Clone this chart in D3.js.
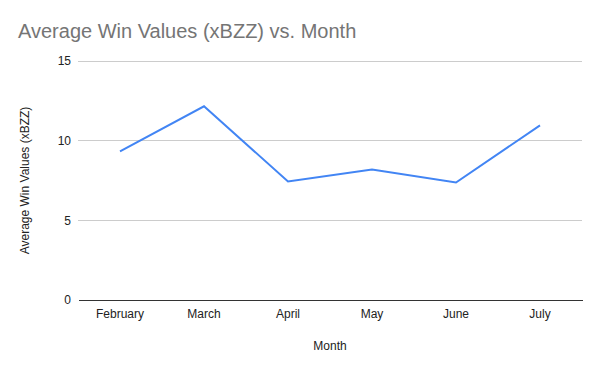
<!DOCTYPE html>
<html>
<head>
<meta charset="utf-8">
<script src="https://cdn.jsdelivr.net/npm/d3@7"></script>
<style>
  body { margin: 0; background: #fff; }
  text { font-family: "Liberation Sans", Arial, sans-serif; }
</style>
</head>
<body>
<svg id="chart" width="600" height="371"></svg>
<script>
const months = ['February', 'March', 'April', 'May', 'June', 'July'];
const winValues = [9.33, 12.16, 7.44, 8.19, 7.37, 10.96];
const yTicks = [0, 5, 10, 15];

const svg = d3.select('svg#chart');
const margin = { top: 61, right: 18, bottom: 71, left: 78 };
const width = 600 - margin.left - margin.right;
const height = 371 - margin.top - margin.bottom;

svg.append('rect').attr('width', 600).attr('height', 371).attr('fill', '#fff');

svg.append('text')
    .attr('x', 18).attr('y', 38)
    .text('Average Win Values (xBZZ) vs. Month')
    .attr('font-size', 20)
    .attr('fill', '#757575');

const g = svg.append('g').attr('transform', `translate(${margin.left},${margin.top})`);

const x = d3.scaleBand().domain(months).range([0, width]);
const y = d3.scaleLinear().domain([0, 15]).range([height, 0]);

// grid lines
g.selectAll('line.grid')
    .data(yTicks.filter(d => d != 0))
    .enter().append('line')
    .classed('grid', true)
    .attr('x1', 0).attr('x2', width)
    .attr('y1', d => y(d)).attr('y2', d => y(d))
    .attr('stroke', '#cccccc').attr('stroke-width', 1)
    .attr('shape-rendering', 'crispEdges');

const yAxis = g.append('g')
    .call(d3.axisLeft(y).tickValues(yTicks).tickSize(0).tickPadding(7));
yAxis.select('.domain').remove();
yAxis.selectAll('text').attr('font-size', 12).attr('fill', '#222');

const xAxis = g.append('g')
    .attr('transform', `translate(0,${height})`)
    .call(d3.axisBottom(x).tickSize(0).tickPadding(9));
xAxis.select('.domain').attr('stroke', '#333').attr('shape-rendering', 'crispEdges');
xAxis.selectAll('text').attr('font-size', 12).attr('fill', '#222');

const line = d3.line()
    .x((d, i) => x(months[i]) + x.bandwidth() / 2)
    .y(d => y(d));

g.append('path')
    .datum(winValues)
    .attr('d', line)
    .attr('fill', 'none')
    .attr('stroke', '#4285F4')
    .attr('stroke-width', 2);

svg.append('text')
    .attr('x', margin.left + width / 2).attr('y', 350)
    .attr('text-anchor', 'middle')
    .attr('font-size', 12).attr('fill', '#222')
    .text('Month');

svg.append('text')
    .attr('transform', `translate(29,${margin.top + height / 2}) rotate(-90)`)
    .attr('text-anchor', 'middle')
    .attr('font-size', 12).attr('fill', '#222')
    .text('Average Win Values (xBZZ)');
</script>
</body>
</html>
